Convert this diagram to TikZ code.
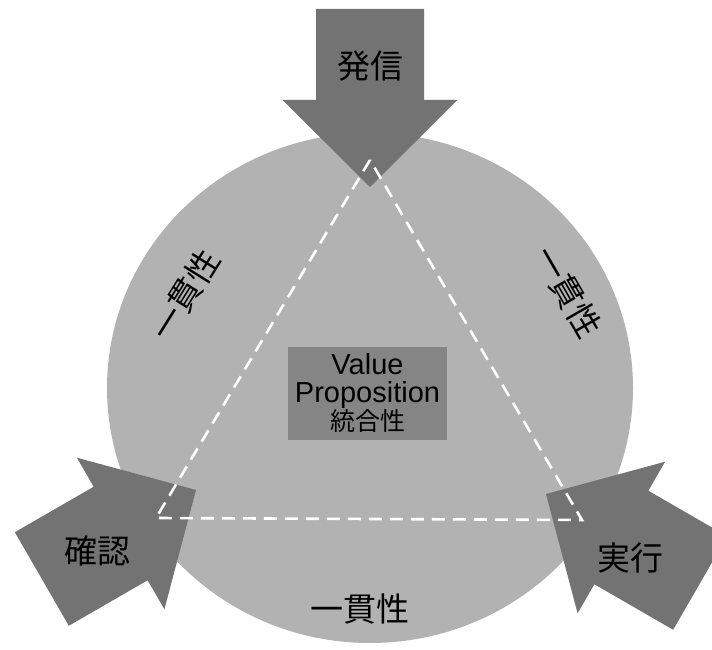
\documentclass[tikz,border=0pt]{standalone}
\usepackage{fontspec}
\setmainfont{Liberation Sans}
\newfontfamily\jp{Noto Sans CJK JP}
\begin{document}
\begin{tikzpicture}[x=1pt,y=1pt]
\useasboundingbox (0,0) rectangle (712,650);
\tikzset{
  circlefill/.style={fill=black!30},
  arrowfill/.style={fill=black!55},
  bigarrow/.pic={\fill[arrowfill] (0,0) -- (-87,87.5) -- (-87,54) -- (-178,54) -- (-178,-54) -- (-87,-54) -- (-87,-87.5) -- cycle;},
  tri/.style={draw=white, line width=2.6pt, dash pattern=on 13pt off 8pt},
  biglbl/.style={font=\jp\fontsize{33}{36}\selectfont, inner sep=0pt},
  centerbox/.style={fill=black!48, minimum width=159pt, minimum height=93pt, inner sep=0pt, align=center, font=\fontsize{29}{28}\selectfont}
}
\coordinate (C) at (370,262);
\fill[circlefill] (C) ellipse [x radius=263, y radius=255];
% arrows
\pic[rotate=-90] at (370,463) {bigarrow};
\pic[rotate=30] at (196,160) {bigarrow};
\pic[rotate=150] at (546,156) {bigarrow};
% triangle
\coordinate (tA) at (370,490);
\coordinate (tB) at (156,132);
\coordinate (tC) at (582,130);
\draw[tri] (tA) -- (tB) -- (tC) -- cycle;
% labels
\node[biglbl] (hasshin) at (370,584) {発信};
\node[biglbl] (kakunin) at (97,99) {確認};
\node[biglbl] (jikkou) at (630,92) {実行};
\node[biglbl, rotate=58] (ikkanL) at (185,355) {一貫性};
\node[biglbl, rotate=-60] (ikkanR) at (568,358) {一貫性};
\node[biglbl] (ikkanB) at (360,41) {一貫性};
\node[centerbox] (vp) at (367.5,256.5) {Value\\Proposition\\{\jp\fontsize{25}{27}\selectfont 統合性}};
\end{tikzpicture}
\end{document}
